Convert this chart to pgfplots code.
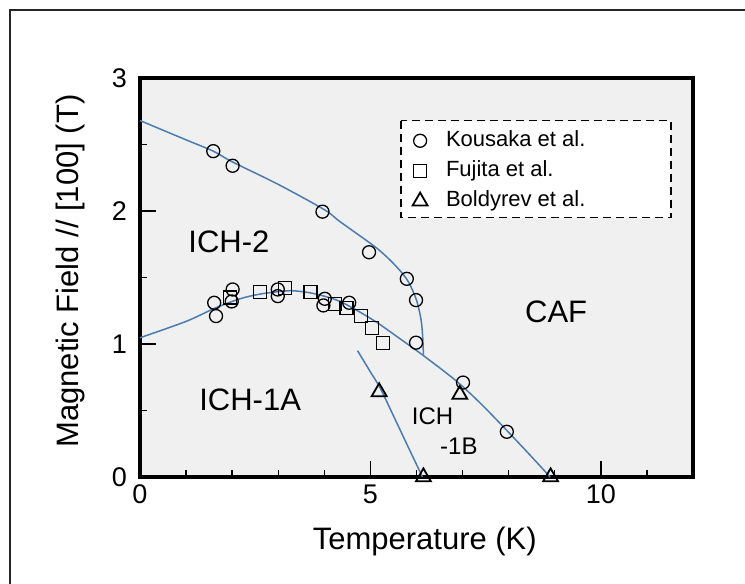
\documentclass[border=0pt]{standalone}
\usepackage{pgfplots}
\pgfplotsset{compat=1.18}
\usepackage{fontspec}
\setmainfont{Liberation Sans}
\definecolor{bgc}{RGB}{240,240,240}
\definecolor{cblue}{RGB}{74,124,176}
\begin{document}
\begin{tikzpicture}[x=1pt,y=1pt]
\path[use as bounding box] (-70,-53.5) rectangle (302.5,238.5);
\draw[line width=0.6pt, black!85] (-65,-60) -- (-65,233.5) -- (310,233.5);
\begin{axis}[
  at={(0,0)}, anchor=south west,
  width=276.5pt, height=199.5pt, scale only axis,
  xmin=0, xmax=12, ymin=0, ymax=3,
  axis background/.style={fill=bgc},
  axis line style={line width=2pt},
  xtick={0,5,10}, minor xtick={1,2,3,4,6,7,8,9,11},
  ytick={0,1,2,3}, minor ytick={0.5,1.5,2.5},
  tick pos=left, tick align=inside,
  major tick length=8pt, minor tick length=3.5pt,
  every tick/.style={black, line width=0.7pt},
  /pgf/number format/assume math mode=true,
  tick label style={font=\fontsize{13.5}{16}\selectfont},
  yticklabel style={xshift=-3pt},
  xticklabel style={yshift=-0.5pt},
  xlabel={Temperature (K)},
  ylabel={Magnetic Field // [100] (T)},
  label style={font=\fontsize{15.5}{18}\selectfont},
  xlabel style={at={(axis description cs:0.515,0)}, anchor=center, yshift=-32pt},
  ylabel style={at={(axis description cs:-0.1266,0.516)}, anchor=center},
  clip mode=individual,
  legend image code/.code={\draw[#1] plot coordinates {(9pt,0pt)}; \path (0pt,0pt) (21pt,0pt);},
  legend style={draw=none, fill=none, at={(axis cs:5.66,2.625)}, anchor=north west,
    font=\fontsize{11}{13}\selectfont, inner sep=0pt, row sep=2.6pt,
    nodes={inner sep=0.5pt, text height=8.5pt, text depth=3pt}},
  legend cell align=left,
]
\draw[dash pattern=on 4pt off 2.5pt, line width=0.75pt, fill=white]
  (axis cs:5.66,2.679) rectangle (axis cs:11.52,1.95);

% upper phase boundary
\addplot[cblue, line width=0.75pt, smooth, tension=0.5, forget plot] coordinates {
 (0,2.68) (1,2.535) (1.59,2.45) (2,2.37) (3,2.20) (4,2.01) (4.34,1.92)
 (5.14,1.72) (5.57,1.58) (5.82,1.47) (6.0,1.33) (6.10,1.18) (6.135,1.05) (6.15,0.92)};
% lower dome / CAF boundary
\addplot[cblue, line width=0.75pt, smooth, tension=0.5, forget plot] coordinates {
 (0,1.047) (1,1.17) (1.63,1.27) (2.17,1.34) (2.6,1.375) (3.04,1.395) (3.33,1.40)
 (3.76,1.38) (4.34,1.32) (5.06,1.18) (5.64,1.04) (6.2,0.90) (6.87,0.72) (7.4,0.55)
 (7.96,0.35) (8.45,0.17) (8.9,0)};
% ICH-1B boundary
\addplot[cblue, line width=0.75pt, smooth, tension=0.5, forget plot] coordinates {
 (4.72,0.95) (5.0,0.79) (5.21,0.67) (5.5,0.46) (5.8,0.24) (6.13,0)};

\addplot[only marks, mark=o, mark size=3.25pt, black, line width=0.65pt] coordinates {
 (1.59,2.45) (2.01,2.34) (3.96,1.995) (4.97,1.69) (5.79,1.49) (5.99,1.33) (5.99,1.01)
 (1.61,1.31) (1.65,1.21) (2.01,1.41) (1.99,1.32) (2.99,1.41) (2.99,1.36) (4.01,1.34)
 (3.98,1.29) (4.54,1.31) (7.01,0.71) (7.96,0.34)};
\addlegendentry{Kousaka et al.}
\addplot[only marks, mark=square, mark size=3.25pt, black, line width=0.65pt] coordinates {
 (1.95,1.35) (2.60,1.39) (3.15,1.42) (3.70,1.39) (4.23,1.30) (4.48,1.27) (4.79,1.21)
 (5.03,1.12) (5.27,1.01)};
\addlegendentry{Fujita et al.}
\addplot[only marks, mark=triangle, mark size=4.3pt, black, line width=0.9pt] coordinates {
 (5.19,0.64) (6.15,0) (6.94,0.62) (8.91,0)};
\addlegendentry{Boldyrev et al.}

\node[font=\fontsize{15.5}{18}\selectfont] at (axis cs:1.93,1.77) {ICH-2};
\node[font=\fontsize{15.5}{18}\selectfont] at (axis cs:9.03,1.24) {CAF};
\node[font=\fontsize{15.5}{18}\selectfont] at (axis cs:2.39,0.58) {ICH-1A};
\node[font=\fontsize{12}{14}\selectfont] at (axis cs:6.35,0.46) {ICH};
\node[font=\fontsize{12}{14}\selectfont] at (axis cs:6.92,0.23) {-1B};
\end{axis}
\end{tikzpicture}
\end{document}
